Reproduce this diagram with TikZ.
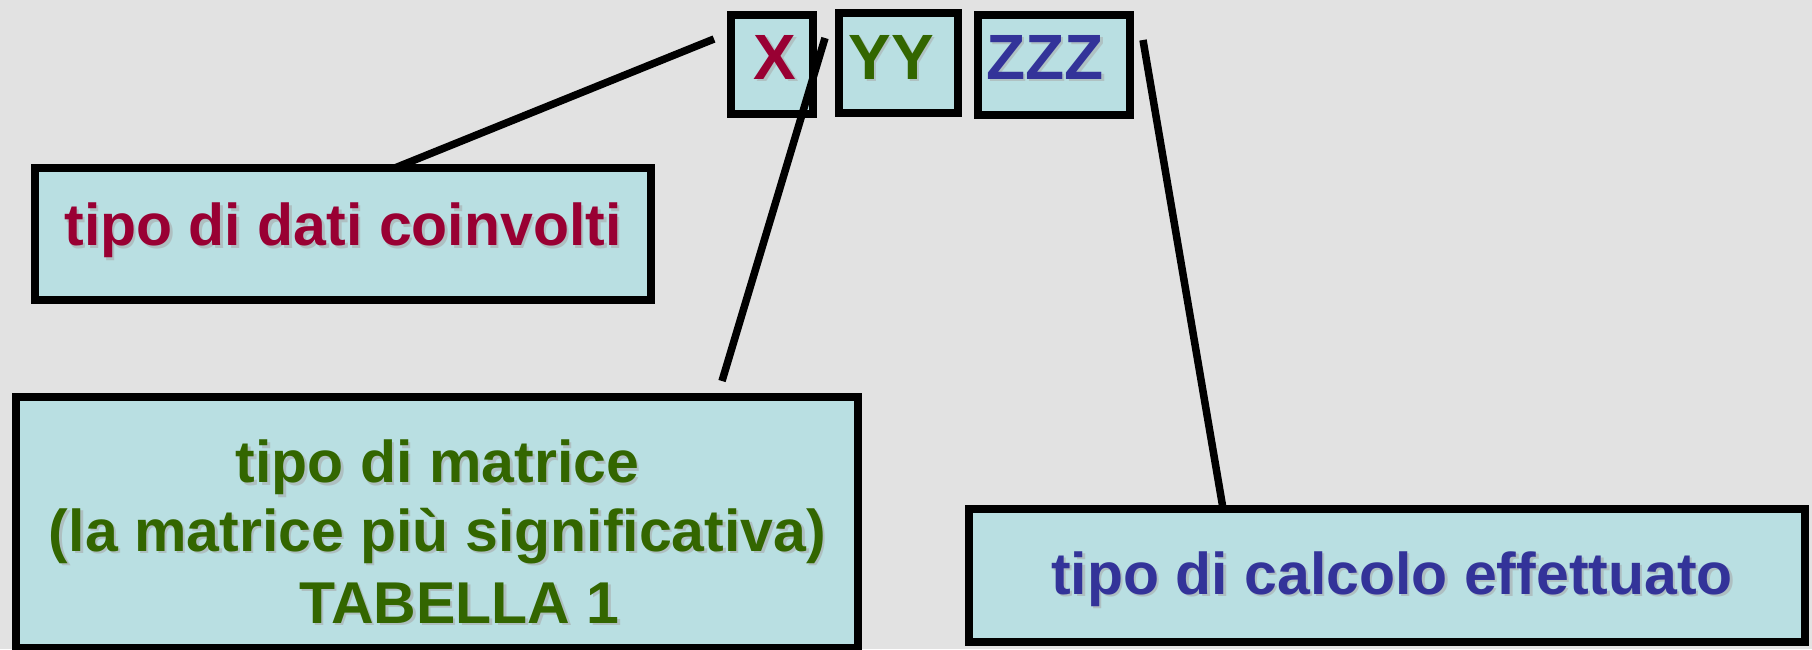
\documentclass[tikz,border=0pt]{standalone}
\usepackage{fontspec}
\setmainfont{Liberation Sans}
\definecolor{bgc}{RGB}{226,226,226}
\definecolor{boxc}{RGB}{185,223,226}
\definecolor{tred}{RGB}{153,0,51}
\definecolor{tgreen}{RGB}{51,102,0}
\definecolor{tblue}{RGB}{51,51,153}
\newcommand{\shtxt}[5]{%
  \node[txt,text=gray!70,opacity=0.55] (#2s) at ($(#1)+(2.5,2.5)$) {#4};
  \node[txt,text=#3] (#2) at (#1) {#4};}
\usetikzlibrary{calc}
\begin{document}
\begin{tikzpicture}[x=1pt,y=-1pt,
  box/.style={draw=black,line width=8pt,fill=boxc},
  txt/.style={anchor=base,inner sep=0pt,font=\bfseries\fontsize{59}{70}\selectfont},
  big/.style={font=\bfseries\fontsize{64}{70}\selectfont},
  conn/.style={draw=black,line width=7.5pt}]
\useasboundingbox (0,0) rectangle (1812,649);
\fill[bgc] (0,0) rectangle (1812,649);
% top boxes
\draw[box] (730.5,14.5) rectangle (813,113.5);
\draw[box] (838.5,13) rectangle (958,113);
\draw[box] (977.5,15) rectangle (1129.5,114.5);
\node[txt,big,text=gray!70,opacity=0.5] (xs) at (777.5,81.5) {X};
\node[txt,big,text=tred] (x) at (775,79) {X};
\node[txt,big,text=gray!70,opacity=0.5] (ys) at (893.5,81.5) {YY};
\node[txt,big,text=tgreen] (y) at (891,79) {YY};
\node[txt,big,text=gray!70,opacity=0.5] (zs) at (1047.5,81.5) {ZZZ};
\node[txt,big,text=tblue] (z) at (1045,79) {ZZZ};
% lower boxes
\draw[box] (34.5,167.5) rectangle (650.5,299.5);
\draw[box] (15.5,396.5) rectangle (857.5,648);
\draw[box] (968.5,508.5) rectangle (1804.5,641.5);
\coordinate (p1) at (343,245.5);
\shtxt{p1}{t1}{tred}{tipo di dati coinvolti}{}
\coordinate (p2a) at (437.5,482.7);
\shtxt{p2a}{t2a}{tgreen}{tipo di matrice}{}
\coordinate (p2b) at (437.5,551);
\shtxt{p2b}{t2b}{tgreen}{(la matrice più significativa)}{}
\coordinate (p2c) at (459.5,623);
\shtxt{p2c}{t2c}{tgreen}{TABELLA 1}{}
\coordinate (p3) at (1392,594);
\shtxt{p3}{t3}{tblue}{tipo di calcolo effettuato}{}
% connectors
\coordinate (la) at (714,39);
\coordinate (lb) at (396,167.5);
\coordinate (ma) at (825,38);
\coordinate (mb) at (722,381);
\coordinate (ra) at (1143,40);
\coordinate (rb) at (1223,508.5);
\draw[conn] (la) -- (lb);
\draw[conn] (ma) -- (mb);
\draw[conn] (ra) -- (rb);
\end{tikzpicture}
\end{document}
